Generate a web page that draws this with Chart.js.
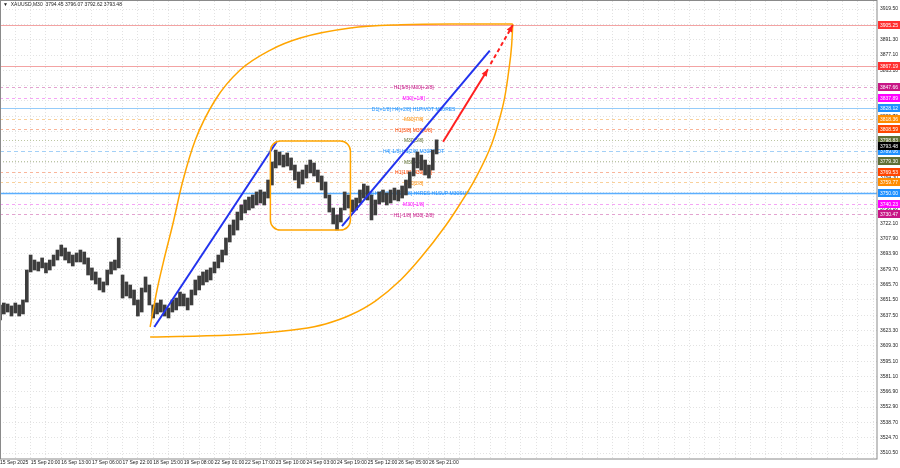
<!DOCTYPE html>
<html>
<head>
<meta charset="utf-8">
<script src="https://cdn.jsdelivr.net/npm/chart.js@4.4.1/dist/chart.umd.min.js"></script>
<style>
  html, body { margin: 0; padding: 0; background: #fff; }
</style>
</head>
<body>
<canvas id="chart" width="900" height="468"></canvas>
<script>
// XAUUSD M30, one point = 4 bars (2 hours)
const symbol = 'XAUUSD,M30';
const lastBar = [3794.45, 3796.07, 3792.62, 3793.48]; // open high low close

const xLabels = ['15 Sep 2025', '15 Sep 20:00', '16 Sep 13:00', '17 Sep 06:00', '17 Sep 22:00',
  '18 Sep 15:00', '19 Sep 08:00', '22 Sep 01:00', '22 Sep 17:00', '23 Sep 10:00',
  '24 Sep 03:00', '24 Sep 19:00', '25 Sep 12:00', '26 Sep 05:00', '26 Sep 21:00'];

const yTicks = [3919.50, 3905.30, 3891.30, 3877.10, 3863.10, 3848.90, 3834.90, 3820.70, 3806.70,
  3792.50, 3778.50, 3764.30, 3750.30, 3736.10, 3722.10, 3707.90, 3693.90, 3679.70, 3665.70,
  3651.50, 3637.50, 3623.30, 3609.30, 3595.10, 3581.10, 3566.90, 3552.90, 3538.70, 3524.70, 3510.50];

const priceHigh = [3646.9, 3648.7, 3647.8, 3646.0, 3648.7, 3646.9, 3651.5, 3679.1, 3692.9, 3688.3,
  3686.5, 3690.2, 3685.6, 3688.3, 3692.9, 3697.5, 3702.1, 3699.4, 3695.7, 3692.9,
  3694.8, 3697.5, 3695.7, 3690.2, 3681.0, 3677.3, 3671.7, 3668.1, 3679.1, 3686.5,
  3688.3, 3708.6, 3674.5, 3668.1, 3665.3, 3660.7, 3651.5, 3662.5, 3672.7, 3665.3,
  3646.9, 3648.7, 3651.5, 3646.9, 3644.1, 3651.5, 3653.3, 3658.8, 3657.0, 3653.3,
  3660.7, 3669.9, 3673.6, 3677.3, 3679.1, 3681.0, 3686.5, 3692.9, 3697.5, 3708.6,
  3720.6, 3725.2, 3732.5, 3739.0, 3743.6, 3746.3, 3748.2, 3751.0, 3752.8, 3751.0,
  3762.0, 3778.6, 3789.6, 3787.8, 3785.0, 3786.9, 3782.3, 3775.8, 3769.4, 3771.2,
  3775.8, 3780.4, 3777.7, 3771.2, 3765.7, 3760.2, 3748.2, 3736.2, 3729.8, 3736.2,
  3751.0, 3748.2, 3743.6, 3745.4, 3752.8, 3758.3, 3756.5, 3748.2, 3743.6, 3751.0,
  3752.8, 3750.0, 3752.8, 3754.6, 3752.8, 3756.5, 3762.0, 3769.4, 3782.3, 3787.8,
  3785.0, 3780.4, 3775.8, 3789.6, 3799.0];

const priceLow = [3633.1, 3638.6, 3640.4, 3636.7, 3639.5, 3636.7, 3638.6, 3649.6, 3677.3, 3679.1,
  3678.2, 3681.0, 3676.4, 3679.1, 3682.8, 3688.3, 3692.0, 3688.3, 3685.6, 3682.8,
  3686.5, 3686.5, 3684.6, 3674.5, 3669.9, 3666.2, 3660.7, 3658.8, 3665.3, 3675.4,
  3679.1, 3681.0, 3653.3, 3655.2, 3653.3, 3646.9, 3636.7, 3640.4, 3658.8, 3646.9,
  3634.9, 3638.6, 3640.4, 3636.7, 3634.9, 3640.4, 3642.3, 3646.0, 3646.0, 3642.3,
  3646.9, 3656.1, 3660.7, 3665.3, 3668.1, 3669.9, 3676.4, 3681.0, 3686.5, 3692.9,
  3704.9, 3711.3, 3715.9, 3725.2, 3731.6, 3734.4, 3736.2, 3739.0, 3740.8, 3739.0,
  3745.4, 3757.4, 3773.1, 3775.8, 3774.0, 3774.9, 3771.2, 3762.0, 3754.6, 3758.3,
  3763.8, 3768.5, 3765.7, 3760.2, 3752.8, 3745.4, 3732.5, 3721.5, 3715.9, 3723.3,
  3734.4, 3736.2, 3732.5, 3734.4, 3740.8, 3745.4, 3743.6, 3725.2, 3729.8, 3739.9,
  3741.7, 3739.0, 3740.8, 3743.6, 3742.7, 3745.4, 3748.2, 3754.6, 3765.7, 3773.1,
  3771.2, 3766.6, 3763.8, 3771.2, 3786.0];

// horizontal levels
const levelPrices = [3905.25, 3867.19, 3847.66, 3837.89, 3828.12, 3818.36, 3808.59, 3798.83,
  3789.06, 3779.30, 3769.53, 3759.77, 3750.00, 3740.23, 3730.47];
const levelTexts = ['', '', 'H1[5/8] M30[+2/8]', 'M30[+1/8]', 'D1[+1/8] H4[+2/8] H1PIVOT M30RES',
  'M30[7/8]', 'H1[3/8] M30[6/8]', 'M30[5/8]', 'H4[-1/8] H1[2/8] M30PIVOT', 'M30[4/8]',
  'H1[1/8] M30[3/8]', 'M30[2/8]', 'D1[0/8] H4[0/8] M30[1/8] H4RES H1SUP M30SUP',
  'M30[-1/8]', 'H1[-1/8] M30[-2/8]'];
const levelTextAt = 108;

// drawn objects, [point index, price]
const trendA = [[40.3, 3626.6], [72.2, 3797.0]];
const trendB = [[89.3, 3719.6], [127.9, 3881.1]];
const arrowSolid = [[115.7, 3797.3], [127.4, 3864.0]];
const arrowDashed = [[128.1, 3868.8], [133.9, 3904.8]];
const rangeBox = [70.6, 91.5, 3797.9, 3715.9];
const curveUpper = [[39.2, 3626.6], [41.0, 3660.7], [42.6, 3685.5], [45.2, 3722.4], [47.6, 3759.2],
  [51.0, 3798.8], [56.2, 3835.7], [62.7, 3863.3], [70.6, 3881.7], [78.4, 3892.8],
  [91.5, 3902.0], [104.6, 3905.0], [117.6, 3905.8], [133.9, 3905.6]];
const curveLower = [[39.2, 3617.4], [52.3, 3618.3], [65.4, 3620.2], [78.4, 3624.7], [85.0, 3629.4],
  [91.5, 3637.6], [98.0, 3650.5], [104.6, 3669.9], [109.8, 3690.1], [116.3, 3719.6],
  [120.3, 3740.8], [124.2, 3763.8], [128.4, 3795.2], [130.2, 3815.4], [131.8, 3838.4],
  [132.8, 3861.5], [133.6, 3886.3], [133.9, 3905.6]];

// styles for the levels
const levelStyles = [
  { color: '#ff3030', line: '#f3a3a3', dash: [], width: 1 },
  { color: '#ff3030', line: '#f3a3a3', dash: [], width: 1 },
  { color: '#c71585', line: '#e3a3d0', dash: [3, 3], width: 1 },
  { color: '#ff00ff', line: '#f5a5f5', dash: [3, 3], width: 1 },
  { color: '#1e90ff', line: '#95ccfa', dash: [], width: 1 },
  { color: '#ff8c00', line: '#f9d09a', dash: [3, 3], width: 1 },
  { color: '#ff4500', line: '#f9b59a', dash: [3, 3], width: 1 },
  { color: '#5f6f35', line: '#bcc7a2', dash: [1, 2], width: 1 },
  { color: '#1e90ff', line: '#a3d0f7', dash: [4, 3], width: 1 },
  { color: '#5f6f35', line: '#bcc7a2', dash: [1, 2], width: 1 },
  { color: '#ff4500', line: '#f9b59a', dash: [3, 3], width: 1 },
  { color: '#ff8c00', line: '#f9d09a', dash: [3, 3], width: 1 },
  { color: '#1e90ff', line: '#5aaeff', dash: [], width: 1.5 },
  { color: '#ff00ff', line: '#f5a5f5', dash: [3, 3], width: 1 },
  { color: '#c71585', line: '#e3a3d0', dash: [3, 3], width: 1 }
];

const FONT = '"Liberation Sans", Arial, sans-serif';
const toXY = pts => pts.map(p => ({ x: p[0], y: p[1] }));

function drawArrowHead(ctx, x0, y0, x1, y1, color) {
  const ang = Math.atan2(y1 - y0, x1 - x0);
  const len = 7, wid = 3;
  ctx.fillStyle = color;
  ctx.beginPath();
  ctx.moveTo(x1, y1);
  ctx.lineTo(x1 - len * Math.cos(ang) + wid * Math.sin(ang), y1 - len * Math.sin(ang) - wid * Math.cos(ang));
  ctx.lineTo(x1 - len * Math.cos(ang) - wid * Math.sin(ang), y1 - len * Math.sin(ang) + wid * Math.cos(ang));
  ctx.closePath();
  ctx.fill();
}

const overlay = {
  id: 'overlay',
  beforeDatasetsDraw(chart) {
    const { ctx, chartArea: a, scales: { x, y } } = chart;
    ctx.save();
    ctx.beginPath();
    ctx.rect(a.left, a.top, a.right - a.left, a.bottom - a.top);
    ctx.clip();
    levelPrices.forEach((p, i) => {
      const s = levelStyles[i];
      const py = Math.round(y.getPixelForValue(p)) + 0.5;
      ctx.strokeStyle = s.line;
      ctx.lineWidth = s.width;
      ctx.setLineDash(s.dash);
      ctx.beginPath();
      ctx.moveTo(a.left, py);
      ctx.lineTo(a.right, py);
      ctx.stroke();
    });
    ctx.setLineDash([]);
    ctx.font = '5px ' + FONT;
    ctx.textAlign = 'center';
    ctx.textBaseline = 'middle';
    const tx = x.getPixelForValue(levelTextAt);
    levelTexts.forEach((t, i) => {
      if (!t) return;
      ctx.fillStyle = levelStyles[i].color;
      ctx.fillText(t, tx, y.getPixelForValue(levelPrices[i]) + 1);
    });
    ctx.restore();
  },
  afterDatasetsDraw(chart) {
    const { ctx, scales: { x, y } } = chart;
    ctx.save();
    // consolidation box
    const bx0 = x.getPixelForValue(rangeBox[0]), bx1 = x.getPixelForValue(rangeBox[1]);
    const by0 = y.getPixelForValue(rangeBox[2]), by1 = y.getPixelForValue(rangeBox[3]);
    ctx.strokeStyle = '#ffa500';
    ctx.lineWidth = 1.5;
    ctx.beginPath();
    ctx.roundRect(bx0, by0, bx1 - bx0, by1 - by0, 10);
    ctx.stroke();
    // arrow heads
    [arrowSolid, arrowDashed].forEach(seg => {
      drawArrowHead(ctx,
        x.getPixelForValue(seg[0][0]), y.getPixelForValue(seg[0][1]),
        x.getPixelForValue(seg[1][0]), y.getPixelForValue(seg[1][1]), '#ff2020');
    });
    ctx.restore();
  },
  afterDraw(chart) {
    const { ctx, chartArea: a, scales: { y } } = chart;
    ctx.save();
    // frame
    ctx.strokeStyle = '#8a8a8a';
    ctx.lineWidth = 1;
    ctx.strokeRect(0.5, a.top - 0.5, a.right - 0.5, a.bottom - a.top + 0.5);
    // price boxes on the axis
    ctx.font = '5px ' + FONT;
    ctx.textAlign = 'left';
    ctx.textBaseline = 'middle';
    const boxes = levelPrices.map((p, i) => [p, levelStyles[i].color]);
    boxes.push([lastBar[3], '#000000']);
    boxes.forEach(([p, c]) => {
      const py = Math.round(y.getPixelForValue(p));
      ctx.fillStyle = c;
      ctx.fillRect(a.right + 1, py - 4, 22, 8);
      ctx.fillStyle = '#ffffff';
      ctx.fillText(p.toFixed(2), a.right + 3, py + 0.5);
    });
    // title
    ctx.fillStyle = '#222';
    ctx.font = '5px ' + FONT;
    ctx.fillText('\u25BC  ' + symbol + '  ' + lastBar.map(v => v.toFixed(2)).join(' '), 3, 5);
    ctx.restore();
  }
};

new Chart(document.getElementById('chart'), {
  type: 'line',
  data: {
    datasets: [
      {
        type: 'bar',
        data: priceHigh.map((h, i) => ({ x: i, y: [priceLow[i], h] })),
        backgroundColor: '#3d3d3d',
        barThickness: 3,
        grouped: false,
        order: 10
      },
      { data: toXY(curveUpper), borderColor: '#ffa500', borderWidth: 1.5, pointRadius: 0, cubicInterpolationMode: 'monotone', order: 2 },
      { data: toXY(curveLower), borderColor: '#ffa500', borderWidth: 1.5, pointRadius: 0, cubicInterpolationMode: 'monotone', order: 2 },
      { data: toXY(trendA), borderColor: '#2233ee', borderWidth: 2, pointRadius: 0, order: 1 },
      { data: toXY(trendB), borderColor: '#2233ee', borderWidth: 2, pointRadius: 0, order: 1 },
      { data: toXY(arrowSolid), borderColor: '#ff2020', borderWidth: 2, pointRadius: 0, order: 1 },
      { data: toXY(arrowDashed), borderColor: '#ff2020', borderWidth: 2, borderDash: [4, 3], pointRadius: 0, order: 1 }
    ]
  },
  options: {
    responsive: false,
    animation: false,
    devicePixelRatio: 1,
    layout: { padding: { top: 1, left: 0, right: 0, bottom: 0 } },
    plugins: { legend: { display: false }, tooltip: { enabled: false } },
    scales: {
      x: {
        type: 'linear',
        min: 0,
        max: 229,
        offset: false,
        grid: { color: '#e2e2e2', drawTicks: false, offset: false },
        border: { display: false, dash: [1, 2] },
        afterBuildTicks: s => {
          const t = [];
          for (let v = 0; v <= 228; v += 4) t.push({ value: v });
          s.ticks = t;
        },
        afterFit: s => { s.height = 9; s.paddingLeft = 0; s.paddingRight = 0; },
        ticks: {
          autoSkip: false,
          maxRotation: 0,
          align: 'start',
          padding: 1,
          color: '#222',
          font: { family: FONT, size: 5 },
          callback: v => (v % 8 === 0 && xLabels[v / 8]) ? xLabels[v / 8] : ''
        }
      },
      y: {
        position: 'right',
        min: 3505.0,
        max: 3926.9,
        grid: { color: '#e2e2e2', drawTicks: false },
        border: { display: false, dash: [1, 2] },
        afterBuildTicks: s => { s.ticks = yTicks.map(v => ({ value: v })); },
        afterFit: s => { s.width = 23; s.paddingTop = 0; s.paddingBottom = 0; },
        ticks: {
          padding: 3,
          color: '#222',
          font: { family: FONT, size: 5 },
          callback: v => Number(v).toFixed(2)
        }
      }
    }
  },
  plugins: [overlay]
});
</script>
</body>
</html>
